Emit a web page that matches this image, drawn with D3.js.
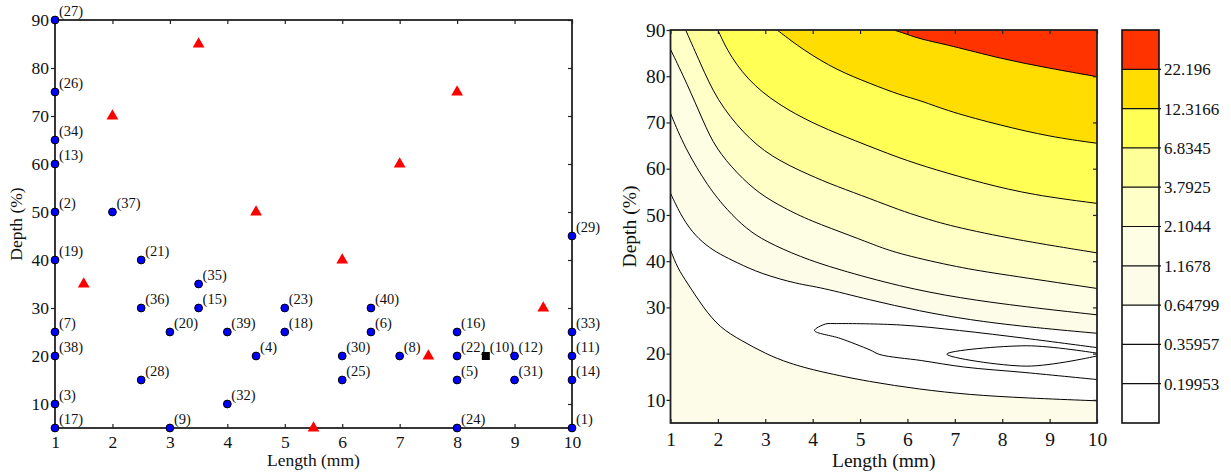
<!DOCTYPE html>
<html><head><meta charset="utf-8">
<script src="https://cdn.jsdelivr.net/npm/d3@7"></script>
<style>
body{margin:0;background:#fff;}
svg{display:block;font-family:"Liberation Serif","Times New Roman",serif;}
</style></head>
<body><svg id="c" width="1231" height="473"></svg>
<script>
// ---------- Left chart data ----------
const sampleLength = [1,1,1,1,1,2,1,2.5,3.5,2.5,3.5,5,1,3,4,5,4.5,1,2.5,1,4,1,3,6.5,6.5,6,7,6,8,8,9,8,9,8,10,10,10,10,10];
const sampleDepth  = [90,75,65,60,50,50,40,40,35,30,30,30,25,25,25,25,20,20,15,10,10,5,5,30,25,20,20,15,25,20,20,15,15,5,45,25,20,15,5];
const sampleId     = [27,26,34,13,2,37,19,21,35,36,15,23,7,20,39,18,4,38,28,3,32,17,9,40,6,30,8,25,16,22,12,5,31,24,29,33,11,14,1];
const triLength = [3.5,2,8,7,4.5,6,1.5,9.5,7.5,5.5];
const triDepth  = [85,70,75,60,50,40,35,30,20,5];
const sqLength = [8.5];
const sqDepth  = [20];
const sqId     = [10];
const xTicks = [1,2,3,4,5,6,7,8,9,10];
const yTicksLeft = [10,20,30,40,50,60,70,80,90];

// ---------- Right chart data (contour lines: [length, depth]) ----------
const levelLabels = ["0.19953","0.35957","0.64799","1.1678","2.1044","3.7925","6.8345","12.3166","22.196"];
const bandColors = ["#ffffff","#ffffff","#ffffff","#fcfce8","#fefee4","#ffffc8","#ffff99","#ffff55","#ffdd00","#ff3300"];
const line0648Lower = [[1,42.4],[1.15,38.5],[1.34,35.5],[1.69,30],[2.04,25.6],[2.5,22.8],[3,20],[3.5,17.9],[4.15,16.1],[5.2,13.9],[6.25,12.3],[7.3,11.1],[8.5,10.4],[10,9.8]];
const line0648Upper = [[1,54.7],[1.2,50.3],[1.45,46.3],[1.75,43.4],[2.04,41.5],[2.4,39.7],[2.9,37.3],[3.7,35],[4.15,34.4],[5.2,31.6],[6.26,29.2],[7.3,27.3],[8.5,25.8],[10,24.4]];
const line0360Loop = [[10,21.3],[8.5,23.3],[7.1,25.0],[5.85,26.2],[4.5,26.5],[4.27,26.4],[4.04,25.0],[4.58,23.3],[5.21,20.8],[5.42,19.8],[6.3,18.5],[7.2,17.1],[8.5,15.9],[10,14.4]];
const line0200Loop = [[10,20.1],[8.52,21.7],[6.83,19.9],[8.52,17.3],[10,19.5]];
const line1168 = [[1,72],[1.3,64.5],[1.8,56],[2.2,51],[2.6,47],[3.0,44.3],[3.74,40.9],[4.5,38.3],[5.85,34.5],[7.1,32],[8.5,30.1],[10,28.4]];
const line2104 = [[1,85.8],[1.35,78.4],[1.7,70],[1.95,64.5],[2.4,59],[2.88,54.5],[3.4,51.5],[3.93,48.8],[4.86,45.3],[5.35,43.3],[5.85,41.5],[7.1,38.6],[7.96,37.2],[10,34.1]];
const line3793 = [[1.32,90],[1.63,82.8],[1.98,74.8],[2.54,67.6],[3.11,62.6],[3.93,58.6],[4.5,56.2],[5.22,53.5],[5.85,51],[6.27,49.6],[6.9,47.6],[8.3,44.6],[10,41.8]];
const line6835 = [[2.0,90],[2.26,84.2],[2.76,77.7],[3.46,72.7],[4.16,69.1],[4.86,66.2],[5.85,62.2],[6.55,59.9],[7.6,56.8],[8.65,54.3],[10,52.5]];
const line12317 = [[3.25,90],[3.81,85.6],[4.51,81.3],[5.22,78.4],[5.85,75.9],[6.27,74.8],[6.9,72.3],[7.96,69.4],[9.01,66.9],[10,65.5]];
const line22196 = [[5.7,90],[5.85,89.6],[6.27,88],[6.9,86.7],[7.96,83.8],[9.01,81.7],[10,79.9]];
const yTicksRight = [10,20,30,40,50,60,70,80,90];

const svg = d3.select("#c");
svg.append("rect").attr("width",1231).attr("height",473).attr("fill","#fff");

// ================= LEFT CHART =================
const xL = d3.scaleLinear().domain([1,10]).range([55,572]);
const yL = d3.scaleLinear().domain([5,90]).range([428,20]);
const L = svg.append("g");
const axStyle = g => { g.select(".domain").remove(); g.selectAll("line").attr("stroke","#222").attr("stroke-width",1.2); g.selectAll("text").attr("fill","#111").attr("font-family","Liberation Serif"); };

L.append("g").attr("transform",`translate(0,${yL(5)})`)
  .call(d3.axisBottom(xL).tickValues(xTicks).tickFormat(d3.format("d")).tickSize(-4).tickPadding(8))
  .call(axStyle).selectAll("text").attr("font-size",17.5);
L.append("g").attr("transform",`translate(0,${yL(90)})`)
  .call(d3.axisTop(xL).tickValues(xTicks).tickFormat("").tickSize(-4)).call(axStyle);
L.append("g").attr("transform",`translate(${xL(1)},0)`)
  .call(d3.axisLeft(yL).tickValues(yTicksLeft).tickFormat(d3.format("d")).tickSize(4).tickPadding(2))
  .call(axStyle).selectAll("text").attr("font-size",17.5);
L.append("g").attr("transform",`translate(${xL(10)},0)`)
  .call(d3.axisRight(yL).tickValues(yTicksLeft).tickFormat("").tickSize(-4)).call(axStyle);
L.append("rect").attr("x",xL(1)).attr("y",yL(90)).attr("width",xL(10)-xL(1)).attr("height",yL(5)-yL(90))
  .attr("fill","none").attr("stroke","#222").attr("stroke-width",1.8);

L.append("text").attr("x",(xL(1)+xL(10))/2).attr("y",466).attr("text-anchor","middle").attr("font-size",17.5).attr("fill","#111").text("Length (mm)");
L.append("text").attr("transform",`translate(22,${(yL(5)+yL(90))/2}) rotate(-90)`).attr("text-anchor","middle").attr("font-size",17.5).attr("fill","#111").text("Depth (%)");

const tri = d3.symbol().type(d3.symbolTriangle).size(60);
L.selectAll(".tri").data(triLength).join("path")
  .attr("transform",(d,i)=>`translate(${xL(d)},${yL(triDepth[i])})`).attr("d",tri).attr("fill","#ff0000");

L.selectAll(".pt").data(sampleLength).join("circle")
  .attr("cx",d=>xL(d)).attr("cy",(d,i)=>yL(sampleDepth[i])).attr("r",3.9)
  .attr("fill","#0000ff").attr("stroke","#000").attr("stroke-width",1);
L.selectAll(".ptl").data(sampleLength).join("text")
  .attr("x",d=>xL(d)+4).attr("y",(d,i)=>yL(sampleDepth[i])-4.5)
  .attr("font-size",14.5).attr("fill","#111").text((d,i)=>`(${sampleId[i]})`);

const sq = d3.symbol().type(d3.symbolSquare).size(64);
L.selectAll(".sq").data(sqLength).join("path")
  .attr("transform",(d,i)=>`translate(${xL(d)},${yL(sqDepth[i])})`).attr("d",sq).attr("fill","#000");
L.selectAll(".sql").data(sqLength).join("text")
  .attr("x",d=>xL(d)+4).attr("y",(d,i)=>yL(sqDepth[i])-4.5)
  .attr("font-size",14.5).attr("fill","#111").text((d,i)=>`(${sqId[i]})`);

// ================= RIGHT CHART =================
const xR = d3.scaleLinear().domain([1,10]).range([670.5,1097]);
const yR = d3.scaleLinear().domain([5,90]).range([423,30]);
const R = svg.append("g");
R.append("clipPath").attr("id","clipR").append("rect")
  .attr("x",xR(1)).attr("y",yR(90)).attr("width",xR(10)-xR(1)).attr("height",yR(5)-yR(90));
const F = R.append("g").attr("clip-path","url(#clipR)");
const lg = d3.line().x(d=>xR(d[0])).y(d=>yR(d[1])).curve(d3.curveBasis);
const lgLoop = d3.line().x(d=>xR(d[0])).y(d=>yR(d[1])).curve(d3.curveCatmullRom.alpha(0.5));
const pt = (a,b)=>`L${xR(a)},${yR(b)}`;

F.append("rect").attr("x",xR(1)).attr("y",yR(90)).attr("width",xR(10)-xR(1)).attr("height",yR(5)-yR(90)).attr("fill",bandColors[3]);
F.append("path").attr("d", lg(line0648Lower) + lg(line0648Upper.slice().reverse()).replace(/^M/,"L") + "Z").attr("fill",bandColors[2]);
const upperLines = [line1168,line2104,line3793,line6835,line12317,line22196];
upperLines.forEach((ln,i)=>{
  F.append("path").attr("d", lg(ln) + pt(10,90) + pt(1,90) + "Z").attr("fill",bandColors[i+4]);
});
const openLines = [line0648Lower,line0648Upper,...upperLines];
F.selectAll(".cl").data(openLines).join("path").attr("d",lg).attr("fill","none").attr("stroke","#000").attr("stroke-width",1);
F.selectAll(".loop").data([line0360Loop,line0200Loop]).join("path").attr("d",lgLoop).attr("fill","none").attr("stroke","#000").attr("stroke-width",1);

R.append("g").attr("transform",`translate(0,${yR(5)})`)
  .call(d3.axisBottom(xR).tickValues(xTicks).tickFormat(d3.format("d")).tickSize(-4).tickPadding(9.5))
  .call(axStyle).selectAll("text").attr("font-size",19.5);
R.append("g").attr("transform",`translate(0,${yR(90)})`)
  .call(d3.axisTop(xR).tickValues(xTicks).tickFormat("").tickSize(-4)).call(axStyle);
R.append("g").attr("transform",`translate(${xR(1)},0)`)
  .call(d3.axisLeft(yR).tickValues(yTicksRight).tickFormat(d3.format("d")).tickSize(4).tickPadding(1))
  .call(axStyle).selectAll("text").attr("font-size",19.5);
R.append("g").attr("transform",`translate(${xR(10)},0)`)
  .call(d3.axisRight(yR).tickValues(yTicksRight).tickFormat("").tickSize(-4)).call(axStyle);
R.append("rect").attr("x",xR(1)).attr("y",yR(90)).attr("width",xR(10)-xR(1)).attr("height",yR(5)-yR(90))
  .attr("fill","none").attr("stroke","#222").attr("stroke-width",1.8);
R.append("text").attr("x",(xR(1)+xR(10))/2).attr("y",467).attr("text-anchor","middle").attr("font-size",19.5).attr("fill","#111").text("Length (mm)");
R.append("text").attr("transform",`translate(636,${(yR(5)+yR(90))/2}) rotate(-90)`).attr("text-anchor","middle").attr("font-size",19.5).attr("fill","#111").text("Depth (%)");

// ================= COLORBAR =================
const yC = d3.scaleLinear().domain([0,bandColors.length]).range([423,30]);
const C = svg.append("g");
C.selectAll(".band").data(bandColors).join("rect")
  .attr("x",1122).attr("width",37).attr("y",(d,i)=>yC(i+1)).attr("height",(d,i)=>yC(i)-yC(i+1)).attr("fill",d=>d);
C.selectAll(".bl").data(levelLabels).join("line")
  .attr("x1",1122).attr("x2",1161).attr("y1",(d,i)=>yC(i+1)).attr("y2",(d,i)=>yC(i+1)).attr("stroke","#111").attr("stroke-width",1.2);
C.append("rect").attr("x",1122).attr("y",30).attr("width",37).attr("height",393).attr("fill","none").attr("stroke","#111").attr("stroke-width",1.6);
C.selectAll(".bt").data(levelLabels).join("text")
  .attr("x",1164).attr("y",(d,i)=>yC(i+1)).attr("dy","0.35em").attr("font-size",17).attr("fill","#111").text(d=>d);
</script></body></html>
